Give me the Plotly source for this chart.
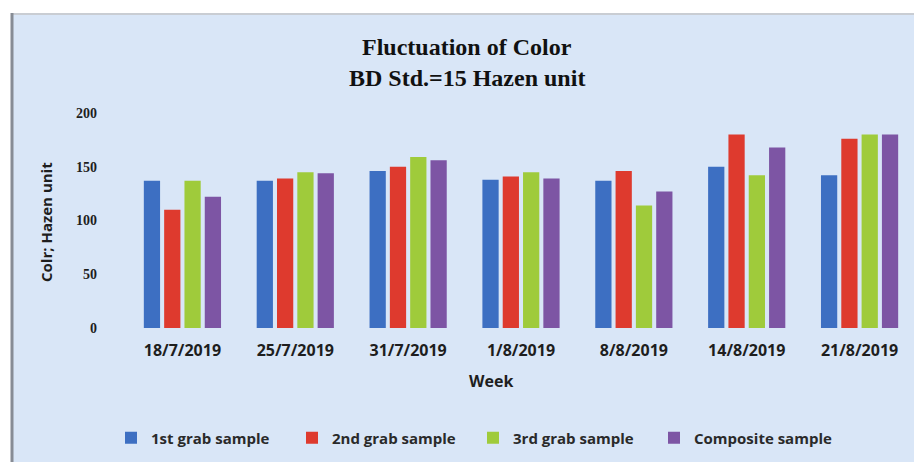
import plotly.graph_objects as go

weeks = ["18/7/2019", "25/7/2019", "31/7/2019", "1/8/2019", "8/8/2019", "14/8/2019", "21/8/2019"]
series_names = ["1st grab sample", "2nd grab sample", "3rd grab sample", "Composite sample"]
grab1 = [137, 137, 146, 138, 137, 150, 142]
grab2 = [110, 139, 150, 141, 146, 180, 176]
grab3 = [137, 145, 159, 145, 114, 142, 180]
composite = [122, 144, 156, 139, 127, 168, 180]
y_ticks = [0, 50, 100, 150, 200]

colors = ["#3d6fc2", "#de3a2e", "#9fcb3b", "#7d55a4"]
series = [grab1, grab2, grab3, composite]

# The page has an 8px body margin, so the figure is offset by 8px; work in screen coords.
OFF = 8
W, H = 922 - OFF, 462 - OFF
PL, PR, PT, PB = 126, 916, 113, 328          # plot area in screen pixels
L, R, T, B = PL - OFF, W - (PR - OFF), PT - OFF, H - (PB - OFF)
pw, ph = W - L - R, H - T - B
def px(x):
    return (x - PL) / pw
def py(y):
    return (PB - y) / ph

fig = go.Figure()
for name, vals, c in zip(series_names, series, colors):
    fig.add_trace(go.Bar(x=weeks, y=vals, name=name, marker=dict(color=c, line=dict(width=0))))

sans = "Open Sans"
fig.update_layout(
    width=W, height=H,
    margin=dict(l=L, r=R, t=T, b=B),
    paper_bgcolor="white",
    plot_bgcolor="rgba(0,0,0,0)",
    barmode="group",
    bargap=0.28,
    bargroupgap=0.2,
    showlegend=True,
    legend=dict(
        orientation="h", x=px(111), xanchor="left", y=py(438), yanchor="middle",
        font=dict(family=sans, size=15, color="#2a2a2a", weight="bold"),
        bgcolor="rgba(0,0,0,0)", itemwidth=30, tracegroupgap=0,
        entrywidth=136, entrywidthmode="pixels",
    ),
    xaxis=dict(
        showgrid=False, showline=False, zeroline=False, ticks="",
        tickfont=dict(family=sans, size=16, color="#1e1e1e", weight="bold"),
        ticklabelstandoff=11,
    ),
    yaxis=dict(
        range=[0, 200], tickvals=y_ticks, showgrid=False, showline=False, zeroline=False,
        ticks="", tickfont=dict(family="Liberation Serif", size=14, color="#1e1e1e", weight="bold"),
        ticklabelstandoff=28,
    ),
    shapes=[
        dict(type="rect", xref="paper", yref="paper", x0=px(12), x1=px(930), y0=py(470), y1=py(13),
             fillcolor="#d9e6f7", line=dict(width=0), layer="below"),
        dict(type="line", xref="paper", yref="paper", x0=px(12), x1=px(930), y0=py(14), y1=py(14),
             line=dict(color="#c9cdd3", width=2), layer="below"),
        dict(type="line", xref="paper", yref="paper", x0=px(12), x1=px(12), y0=py(470), y1=py(13),
             line=dict(color="#878c95", width=3), layer="below"),
    ],
    annotations=[
        dict(text="<b>Fluctuation of Color</b>", xref="paper", yref="paper", x=px(467), y=py(47),
             showarrow=False, font=dict(family="Liberation Serif", size=24, color="#111111"),
             xanchor="center", yanchor="middle"),
        dict(text="<b>BD Std.=15 Hazen unit</b>", xref="paper", yref="paper", x=px(467), y=py(78),
             showarrow=False, font=dict(family="Liberation Serif", size=24, color="#111111"),
             xanchor="center", yanchor="middle"),
        dict(text="<b>Week</b>", xref="paper", yref="paper", x=px(491), y=py(381),
             showarrow=False, font=dict(family=sans, size=16, color="#1e1e1e"),
             xanchor="center", yanchor="middle"),
        dict(text="<b>Colr; Hazen unit</b>", xref="paper", yref="paper", x=px(46), y=py(222),
             showarrow=False, textangle=-90, font=dict(family=sans, size=15, color="#1e1e1e"),
             xanchor="center", yanchor="middle"),
    ],
)

fig.write_html("out.html")
